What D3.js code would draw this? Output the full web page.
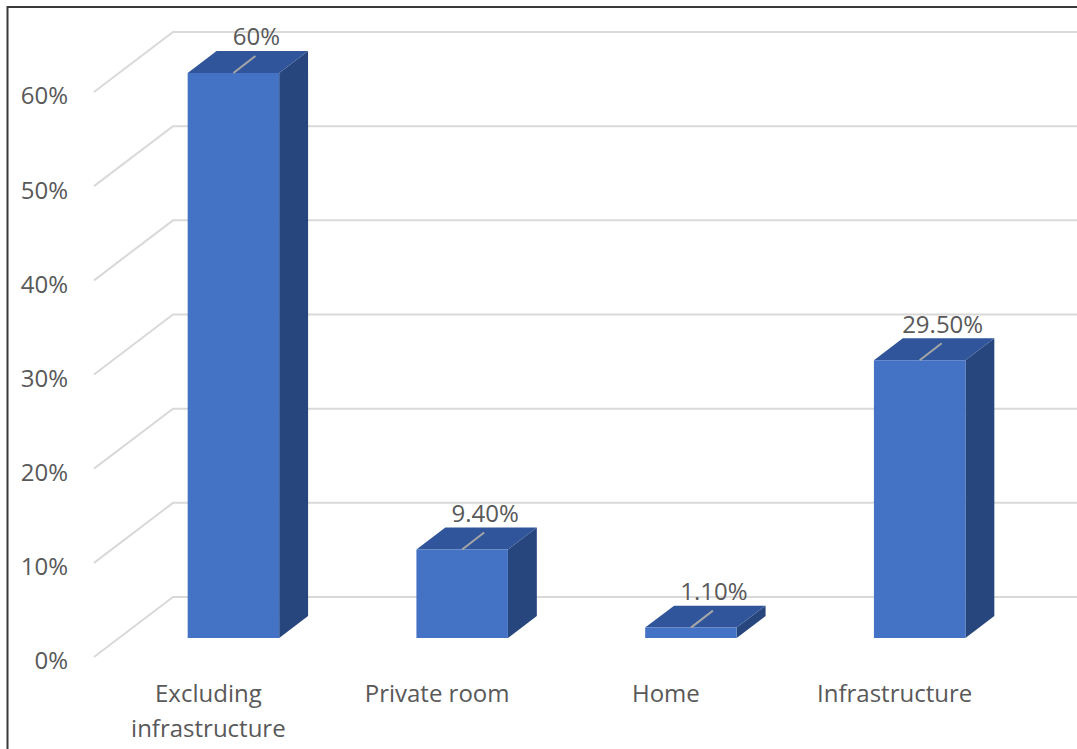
<!DOCTYPE html>
<html>
<head>
<meta charset="utf-8">
<script src="https://cdn.jsdelivr.net/npm/d3@7"></script>
<style>
  html, body { margin: 0; padding: 0; background: #ffffff; }
  svg { display: block; }
  text { font-family: "Open Sans", "Noto Sans", sans-serif; }
</style>
</head>
<body>
<svg id="chart" width="1077" height="749"></svg>
<script>
// ---- data ----
const categories = ["Excluding infrastructure", "Private room", "Home", "Infrastructure"];
const values = [0.60, 0.094, 0.011, 0.295];
const valueLabels = ["60%", "9.40%", "1.10%", "29.50%"];
const tickValues = [0, 0.1, 0.2, 0.3, 0.4, 0.5, 0.6];
const tickLabels = ["0%", "10%", "20%", "30%", "40%", "50%", "60%"];

// ---- layout ----
const W = 1077, H = 749;
const svg = d3.select("#chart");
svg.append("rect").attr("width", W).attr("height", H).attr("fill", "#ffffff");

const depthX = 79, depthY = 60;          // full floor depth in projection
const f0 = 0.317, f1 = 0.683;           // bar depth extent as fraction of floor
const x = d3.scaleBand().domain(categories).range([94, 1009]);
const y = d3.scaleLinear().domain([0, 0.6]).range([657, 92]); // front plane

const proj = (px, v, f) => [px + depthX * f, y(v) - depthY * f];

// gridlines (side wall diagonal + back wall horizontal)
const grid = svg.append("g");
tickValues.forEach((t, i) => {
  const x0 = x.range()[0], x1 = x.range()[1];
  const a = proj(x0, t, 0), b = proj(x0, t, 1), c = proj(x1, t, 1);
  grid.append("polyline")
    .attr("points", [a, b, c].map(p => p.join(",")).join(" "))
    .attr("fill", "none")
    .attr("stroke", "#d9d9d9")
    .attr("stroke-width", 2);
  grid.append("text")
    .attr("x", 68)
    .attr("y", y(t) + 6)
    .attr("text-anchor", "end")
    .attr("dominant-baseline", "middle")
    .attr("font-size", 24)
    .attr("fill", "#595959")
    .text(tickLabels[i]);
});

// bars
const barW = x.bandwidth() * 0.4;
const bars = svg.append("g");
categories.forEach((cat, i) => {
  const cx = x(cat) + x.bandwidth() / 2;
  const xl = cx - barW / 2, xr = cx + barW / 2;
  const v = values[i];
  const p = (px, val, f) => proj(px, val, f).join(",");
  // side face
  bars.append("polygon")
    .attr("points", [p(xr, 0, f0), p(xr, 0, f1), p(xr, v, f1), p(xr, v, f0)].join(" "))
    .attr("fill", "#27467d");
  // top face
  bars.append("polygon")
    .attr("points", [p(xl, v, f0), p(xr, v, f0), p(xr, v, f1), p(xl, v, f1)].join(" "))
    .attr("fill", "#30559a");
  // front face
  bars.append("polygon")
    .attr("points", [p(xl, 0, f0), p(xr, 0, f0), p(xr, v, f0), p(xl, v, f0)].join(" "))
    .attr("fill", "#4472c4");

  // leader line and value label
  const [fx, fy] = proj(cx, v, f0);
  bars.append("line")
    .attr("x1", fx).attr("y1", fy)
    .attr("x2", fx + 22).attr("y2", fy - 17)
    .attr("stroke", "#a6a6a6")
    .attr("stroke-width", 2);
  bars.append("text")
    .attr("x", fx + 23)
    .attr("y", fy - 34)
    .attr("text-anchor", "middle")
    .attr("dominant-baseline", "middle")
    .attr("font-size", 24)
    .attr("fill", "#595959")
    .text(valueLabels[i]);
});

// category labels
const catG = svg.append("g");
categories.forEach(cat => {
  const cx = x(cat) + x.bandwidth() / 2;
  const t = catG.append("text")
    .attr("x", cx)
    .attr("y", 696)
    .attr("text-anchor", "middle")
    .attr("dominant-baseline", "middle")
    .attr("font-size", 24)
    .attr("fill", "#595959")
    .text(cat);
  if (t.node().getComputedTextLength() > 200) {
    const words = cat.split(" ");
    t.text(null);
    words.forEach((w, k) => {
      t.append("tspan").attr("x", cx).attr("y", 696 + k * 35).text(w);
    });
  }
});

// chart border (top and left)
svg.append("line").attr("x1", 7).attr("y1", 7).attr("x2", W).attr("y2", 7)
  .attr("stroke", "#3a3a3a").attr("stroke-width", 2);
svg.append("line").attr("x1", 7.5).attr("y1", 6).attr("x2", 7.5).attr("y2", H)
  .attr("stroke", "#3a3a3a").attr("stroke-width", 2);
</script>
</body>
</html>
